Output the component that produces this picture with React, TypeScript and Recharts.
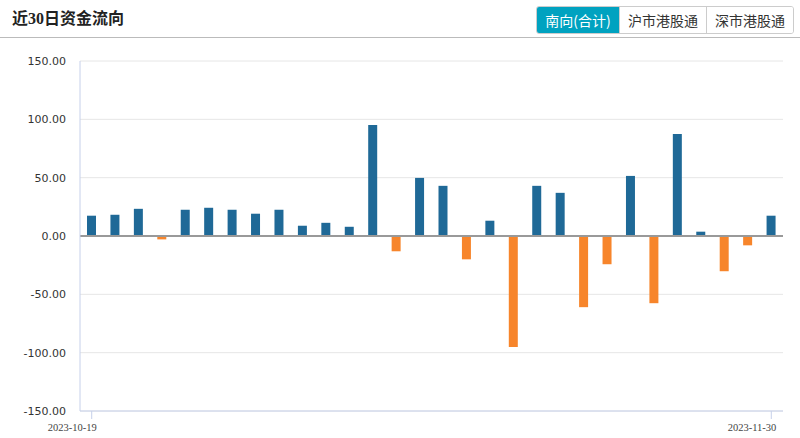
import React from 'react';
import { BarChart, Bar, XAxis, YAxis, CartesianGrid, ReferenceLine, Cell } from 'recharts';

const dates = [
  '2023-10-19', '2023-10-20', '2023-10-24', '2023-10-25', '2023-10-26', '2023-10-27',
  '2023-10-30', '2023-10-31', '2023-11-01', '2023-11-02', '2023-11-03', '2023-11-06',
  '2023-11-07', '2023-11-08', '2023-11-09', '2023-11-10', '2023-11-13', '2023-11-14',
  '2023-11-15', '2023-11-16', '2023-11-17', '2023-11-20', '2023-11-21', '2023-11-22',
  '2023-11-23', '2023-11-24', '2023-11-27', '2023-11-28', '2023-11-29', '2023-11-30',
];

const flows = [
  17.4, 18.2, 23.3, -2.9, 22.5, 24.2, 22.5, 19.1, 22.5, 8.8,
  11.3, 7.9, 95.1, -13.1, 49.8, 43.0, -20.0, 13.1, -95.2, 43.0,
  37.0, -61.0, -24.2, 51.5, -57.6, 87.4, 3.7, -30.2, -8.0, 17.4,
];

const yTicks = [-150, -100, -50, 0, 50, 100, 150];
const tabs = ['南向(合计)', '沪市港股通', '深市港股通'];

const data = dates.map((date, i) => ({ date, value: flows[i] }));

const UP = '#1f6997';
const DOWN = '#f7852b';
const AXIS = '#c6d0ea';

const DateTick = (props: any) => {
  const { x, y, index } = props;
  if (index !== 0 && index !== dates.length - 1) return null;
  return (
    <g>
      <line x1={x} y1={y} x2={x} y2={y + 8} stroke={AXIS} />
      <text x={x + 5} y={y + 20} textAnchor="end" fontSize={10.5} fill="#444" fontFamily="'Liberation Serif', serif">
        {props.payload.value}
      </text>
    </g>
  );
};

const App = () => {
  return (
    <div style={{ position: 'absolute', left: 0, top: 0, width: 800, height: 438, background: '#fff', overflow: 'hidden' }}>
      {/* header */}
      <div
        style={{
          position: 'absolute', left: 12, top: 8, fontSize: 16, fontWeight: 'bold', color: '#222', lineHeight: '22px',
          fontFamily: "'Liberation Serif', 'Noto Sans CJK SC', serif",
        }}
      >
        近30日资金流向
      </div>
      <div style={{ position: 'absolute', left: 536, top: 6, display: 'flex', border: '1px solid #ccc', borderRadius: 3, overflow: 'hidden' }}>
        {tabs.map((t, i) => (
          <div
            key={t}
            style={{
              width: i === 0 ? 82 : 86,
              height: 26,
              lineHeight: '26px',
              textAlign: 'center',
              fontSize: 14,
              fontFamily: "'Noto Sans CJK SC', sans-serif",
              background: i === 0 ? '#00a2c0' : '#fff',
              color: i === 0 ? '#fff' : '#333',
              borderLeft: i === 0 ? 'none' : '1px solid #ccc',
            }}
          >
            {t}
          </div>
        ))}
      </div>
      <div style={{ position: 'absolute', left: 0, top: 37, width: 800, height: 1, background: '#bbb' }} />

      <div style={{ position: 'absolute', left: 0, top: 38 }}>
        <BarChart width={800} height={400} data={data} margin={{ top: 23, right: 17, bottom: 0, left: 0 }}>
          <CartesianGrid vertical={false} stroke="#e6e6e6" />
          <XAxis
            dataKey="date"
            height={27}
            interval={0}
            tickLine={false}
            tickSize={0}
            tickMargin={0}
            axisLine={{ stroke: AXIS }}
            tick={<DateTick />}
          />
          <YAxis
            width={80}
            domain={[-150, 150]}
            ticks={yTicks}
            tickFormatter={(v: number) => v.toFixed(2)}
            tickLine={false}
            tickSize={0}
            tickMargin={14}
            axisLine={{ stroke: AXIS }}
            tick={{ fontSize: 11, fill: '#333', fontFamily: "'DejaVu Sans', sans-serif" }}
          />
          <ReferenceLine y={0} stroke="#999" strokeWidth={2} />
          <Bar dataKey="value" barSize={9} isAnimationActive={false}>
            {data.map((d, i) => (
              <Cell key={i} fill={d.value >= 0 ? UP : DOWN} />
            ))}
          </Bar>
        </BarChart>
      </div>
    </div>
  );
};

export default App;
